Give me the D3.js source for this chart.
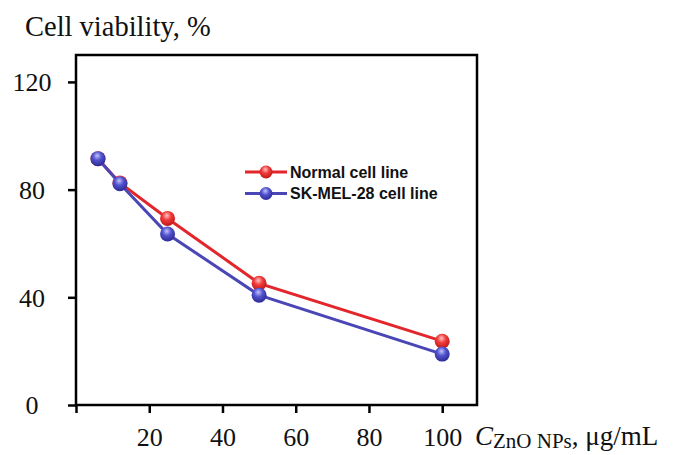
<!DOCTYPE html>
<html>
<head>
<meta charset="utf-8">
<script src="https://cdn.jsdelivr.net/npm/d3@7"></script>
<style>
  body { margin: 0; background: #fff; }
  text { font-family: "Liberation Serif", "Times New Roman", serif; }
  .legend text { font-family: "Liberation Sans", Arial, sans-serif; font-weight: bold; }
</style>
</head>
<body>
<div id="app"></div>
<script>
const width = 679;
const height = 455;

// concentrations, µg/mL
const concentrations = [6, 12, 25, 50, 100];
const normalCells = [91.5, 82.5, 69.3, 45.2, 23.7];
const skMelCells = [91.5, 82.2, 63.5, 40.8, 18.9];
const xTicks = [0, 20, 40, 60, 80, 100];
const yTicks = [0, 40, 80, 120];

const series = [
  { name: "Normal cell line", values: normalCells, color: "#e2262b", id: "red",
    stops: ["#ffc4c4", "#f03a3a", "#c01818"] },
  { name: "SK-MEL-28 cell line", values: skMelCells, color: "#4a46b6", id: "blue",
    stops: ["#c2c2ff", "#5252cc", "#2c2a96"] }
];

const plot = { left: 76, right: 477, top: 55, bottom: 405 };
const markerR = 7.5;

const svg = d3.select("#app").append("svg")
  .attr("width", width)
  .attr("height", height);

const x = d3.scaleLinear().domain([0, 109.5]).range([plot.left, plot.right]);
const y = d3.scaleLinear().domain([0, 130]).range([plot.bottom, plot.top]);

// sphere gradients
const defs = svg.append("defs");
series.forEach(s => {
  const g = defs.append("radialGradient")
    .attr("id", `ball-${s.id}`)
    .attr("cx", "45%").attr("cy", "35%").attr("r", "65%")
    .attr("fx", "45%").attr("fy", "30%");
  g.append("stop").attr("offset", "0%").attr("stop-color", s.stops[0]);
  g.append("stop").attr("offset", "45%").attr("stop-color", s.stops[1]);
  g.append("stop").attr("offset", "100%").attr("stop-color", s.stops[2]);
});

// frame
svg.append("rect")
  .attr("x", plot.left).attr("y", plot.top)
  .attr("width", plot.right - plot.left)
  .attr("height", plot.bottom - plot.top)
  .attr("fill", "none")
  .attr("stroke", "#000")
  .attr("stroke-width", 2.5);

// axes
const xAxis = svg.append("g")
  .attr("transform", `translate(0,${plot.bottom})`)
  .call(d3.axisBottom(x).tickValues(xTicks).tickSize(8).tickFormat(d => d === 0 ? "" : d));

const yAxis = svg.append("g")
  .attr("transform", `translate(${plot.left},0)`)
  .call(d3.axisLeft(y).tickValues(yTicks).tickSize(8));

[xAxis, yAxis].forEach(a => {
  a.select(".domain").remove();
  a.selectAll(".tick line").attr("stroke", "#000").attr("stroke-width", 2.5);
  a.selectAll(".tick text")
    .attr("fill", "#111")
    .style("font-size", "26px")
    .style("font-family", "'Liberation Serif', 'Times New Roman', serif");
});
xAxis.selectAll(".tick text").attr("dy", "0.71em").attr("y", 23);
yAxis.selectAll(".tick text").attr("text-anchor", "middle").attr("x", -44).attr("dy", "0.34em");

// lines + markers
const line = d3.line()
  .x((d, i) => x(concentrations[i]))
  .y(d => y(d));

series.forEach(s => {
  svg.append("path")
    .datum(s.values)
    .attr("fill", "none")
    .attr("stroke", s.color)
    .attr("stroke-width", 3)
    .attr("d", line);
  svg.append("g")
    .selectAll("circle")
    .data(s.values)
    .join("circle")
    .attr("cx", (d, i) => x(concentrations[i]))
    .attr("cy", d => y(d))
    .attr("r", markerR)
    .attr("fill", `url(#ball-${s.id})`);
});

// legend
const legend = svg.append("g").attr("class", "legend");
series.forEach((s, i) => {
  const ly = 172 + i * 21.5;
  legend.append("line")
    .attr("x1", 245).attr("x2", 287)
    .attr("y1", ly).attr("y2", ly)
    .attr("stroke", s.color).attr("stroke-width", 3);
  legend.append("circle")
    .attr("cx", 266).attr("cy", ly).attr("r", 6.5)
    .attr("fill", `url(#ball-${s.id})`);
  legend.append("text")
    .attr("x", 290).attr("y", ly + 5.5)
    .style("font-size", "16px")
    .attr("fill", "#111")
    .text(s.name);
});

// titles
svg.append("text")
  .attr("x", 25).attr("y", 36)
  .style("font-size", "28.5px")
  .attr("fill", "#111")
  .text("Cell viability, %");

const xl = svg.append("text")
  .attr("x", 475).attr("y", 445)
  .attr("fill", "#111")
  .style("font-size", "27px");
xl.append("tspan").style("font-style", "italic").text("C");
xl.append("tspan").attr("dy", 3).style("font-size", "21px").text("ZnO NPs");
xl.append("tspan").attr("dy", -3).text(", μg/mL");
</script>
</body>
</html>
